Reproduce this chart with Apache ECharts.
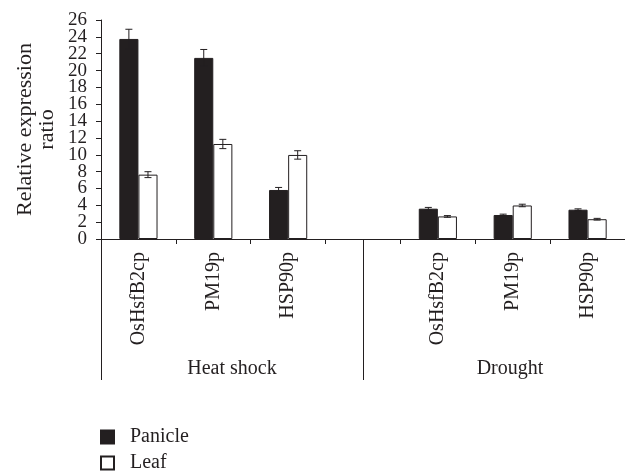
<!DOCTYPE html>
<html>
<head>
<meta charset="utf-8">
<script src="https://cdn.jsdelivr.net/npm/echarts@6/dist/echarts.min.js"></script>
<style>html,body{margin:0;padding:0;background:#fff}#c{width:625px;height:472px}</style>
</head>
<body>
<div id="c"></div>
<script>
const categories = ['OsHsfB2cp','PM19p','HSP90p','','OsHsfB2cp','PM19p','HSP90p'];
const groups = ['Heat shock','Drought'];
const panicle = [23.75, 21.5, 5.82, null, 3.6, 2.85, 3.48];
const panicleErr = [1.15, 1.0, 0.3, null, 0.15, 0.1, 0.1];
const leaf = [7.64, 11.28, 9.98, null, 2.68, 3.98, 2.35];
const leafErr = [0.35, 0.55, 0.5, null, 0.1, 0.15, 0.1];
const yTicks = ['0','2','4','6','8','10','12','14','16','18','20','22','24','26'];

const FONT = 'Liberation Serif';
const DARK = '#231f20';
const BAR_FRAC = 0.51;

function errData(vals, errs){
  const out = [];
  vals.forEach((v,i)=>{ if(v!=null) out.push([i, v, errs[i]]); });
  return out;
}
function errRender(side){
  return function(params, api){
    const idx = api.value(0), v = api.value(1), e = api.value(2);
    const bw = api.size([1,0])[0];
    const barW = bw*BAR_FRAC/2;
    const c = api.coord([idx, v]);
    const x = c[0] + side*barW/2;
    const hi = api.coord([idx, v+e])[1];
    const lo = api.coord([idx, v-e])[1];
    const cap = 3.5;
    const st = {stroke: DARK, lineWidth: 1};
    return {type:'group', children:[
      {type:'line', shape:{x1:x,y1:hi,x2:x,y2:lo}, style:st},
      {type:'line', shape:{x1:x-cap,y1:hi,x2:x+cap,y2:hi}, style:st},
      {type:'line', shape:{x1:x-cap,y1:lo,x2:x+cap,y2:lo}, style:st}
    ]};
  };
}

const chart = echarts.init(document.getElementById('c'), null, {renderer:'canvas'});
chart.setOption({
  animation:false,
  backgroundColor:'#fff',
  textStyle:{fontFamily:FONT, color:'#231f20'},
  grid:{left:101, right:-1, top:20, bottom:233, containLabel:false},
  legend:{
    data:['Panicle','Leaf'], orient:'vertical', left:100, top:427, height:60, padding:0,
    itemWidth:13, itemHeight:13, itemGap:6, icon:'rect',
    textStyle:{fontFamily:FONT, fontSize:20, color:'#231f20', padding:[0,0,0,11]}
  },
  xAxis:[{
    type:'category', data:categories, position:'bottom',
    axisLine:{lineStyle:{color:DARK, width:1}},
    axisTick:{show:true, interval:0, length:5, lineStyle:{color:DARK}},
    axisLabel:{interval:0, rotate:90, margin:13, fontFamily:FONT, fontSize:20, color:'#231f20'}
  },{
    type:'category', data:groups, position:'bottom', offset:141,
    axisLine:{show:false},
    axisTick:{show:true, inside:true, length:141, interval:0, lineStyle:{color:DARK}},
    axisLabel:{interval:0, margin:-21, fontFamily:FONT, fontSize:20, color:'#231f20',
      formatter:v=> v==='Drought' ? '{d|'+v+'}' : v,
      rich:{d:{fontFamily:FONT, fontSize:20, color:'#231f20', padding:[0,0,0,32]}}}
  }],
  yAxis:[{
    type:'value', min:0, max:26, interval:2, position:'left',
    name:'Relative expression\nratio', nameLocation:'middle', nameGap:43, nameRotate:90,
    nameTextStyle:{fontFamily:FONT, fontSize:22, color:'#231f20', lineHeight:22},
    axisLine:{show:true, lineStyle:{color:DARK}},
    axisTick:{show:false},
    splitLine:{show:false},
    axisLabel:{show:false}
  },{
    type:'category', data:yTicks, boundaryGap:false, position:'left',
    axisLine:{show:false},
    axisTick:{show:true, interval:0, length:5, lineStyle:{color:DARK}},
    splitLine:{show:false},
    axisLabel:{interval:0, margin:14, fontFamily:FONT, fontSize:19, color:'#231f20'}
  }],
  series:[
    {name:'Panicle', type:'bar', xAxisIndex:0, yAxisIndex:0, data:panicle, barGap:'0%', barCategoryGap:'49%',
      itemStyle:{color:DARK, borderColor:DARK, borderWidth:1}},
    {name:'Leaf', type:'bar', xAxisIndex:0, yAxisIndex:0, data:leaf, barGap:'0%', barCategoryGap:'49%',
      itemStyle:{color:'#ffffff', borderColor:DARK, borderWidth:1}},
    {name:'errP', type:'custom', xAxisIndex:0, yAxisIndex:0, data:errData(panicle, panicleErr), renderItem:errRender(-1), z:5,
      encode:{x:0, y:1}},
    {name:'errL', type:'custom', xAxisIndex:0, yAxisIndex:0, data:errData(leaf, leafErr), renderItem:errRender(1), z:5,
      encode:{x:0, y:1}}
  ]
});
</script>
</body>
</html>
